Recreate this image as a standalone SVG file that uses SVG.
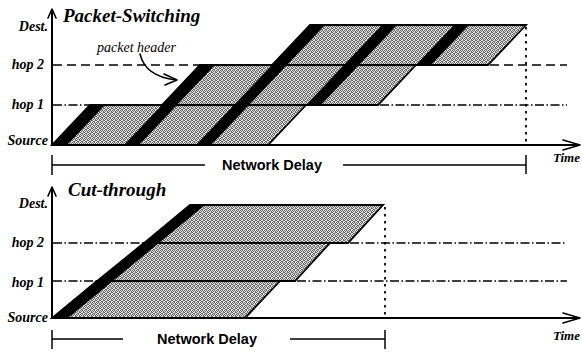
<svg xmlns="http://www.w3.org/2000/svg" width="582" height="354" viewBox="0 0 582 354">
<style>
.lab{font-family:"Liberation Serif","Times New Roman",serif;font-weight:bold;font-style:italic;font-size:14px;fill:#000;text-anchor:end}
.title{font-family:"Liberation Serif","Times New Roman",serif;font-weight:bold;font-style:italic;font-size:19px;fill:#000}
.hdr{font-family:"Liberation Serif","Times New Roman",serif;font-style:italic;font-size:14px;fill:#000}
.nd{font-family:"Liberation Sans",Arial,sans-serif;font-weight:bold;font-size:14.5px;fill:#000;text-anchor:middle}
.time{font-family:"Liberation Serif","Times New Roman",serif;font-weight:bold;font-style:italic;font-size:13px;fill:#000}
.band{fill:url(#stip);stroke:#000;stroke-width:1.8;stroke-linejoin:miter}
.stripe{fill:#000;stroke:none}
.axis{stroke:#000;stroke-width:2;fill:none}
.arr{stroke:#000;stroke-width:1.6;fill:none;stroke-linecap:round;stroke-linejoin:round}
.dash{stroke:#000;stroke-width:1.6;stroke-dasharray:9 5;fill:none}
.dd{stroke:#000;stroke-width:1.4;stroke-dasharray:9 2.5 1.5 2.5;fill:none}
.dot{stroke:#000;stroke-width:1.8;stroke-dasharray:2.5 4.5;fill:none}
.bar{stroke:#000;stroke-width:1.5;fill:none}
.dk{fill:#6a6a6a}
</style>
<defs>
<pattern id="stip" width="4" height="4" patternUnits="userSpaceOnUse">
<rect width="4" height="4" fill="#dedede"/>
<rect class="dk" x="0" y="0" width="1" height="1"/>
<rect class="dk" x="3" y="0" width="1" height="1"/>
<rect class="dk" x="1" y="1" width="2" height="1"/>
<rect class="dk" x="0" y="2" width="1" height="1"/>
<rect class="dk" x="2" y="2" width="1" height="1"/>
<rect class="dk" x="1" y="3" width="1" height="1"/>
<rect class="dk" x="3" y="3" width="1" height="1"/>
</pattern>
</defs>

<g id="top-panel">
<text class="title" x="63" y="22">Packet-Switching</text>
<text class="lab" x="48" y="31">Dest.</text>
<text class="lab" x="44" y="69">hop 2</text>
<text class="lab" x="44" y="109">hop 1</text>
<text class="lab" x="48" y="145">Source</text>
<text class="hdr" x="97" y="52">packet header</text>

<g id="ps-band0">
<polygon class="band" points="52,145 268,145 306,105 90,105"/>
<polygon class="stripe" points="52,145 67,145 105,105 90,105"/>
<polygon class="stripe" points="124,145 139,145 177,105 162,105"/>
<polygon class="stripe" points="196,145 211,145 249,105 234,105"/>
</g>
<g id="ps-band1">
<polygon class="band" points="162,105 378,105 416,65 200,65"/>
<polygon class="stripe" points="162,105 177,105 215,65 200,65"/>
<polygon class="stripe" points="234,105 249,105 287,65 272,65"/>
<polygon class="stripe" points="306,105 321,105 359,65 344,65"/>
</g>
<g id="ps-band2">
<polygon class="band" points="272,65 488,65 526,25 310,25"/>
<polygon class="stripe" points="272,65 287,65 325,25 310,25"/>
<polygon class="stripe" points="344,65 359,65 397,25 382,25"/>
<polygon class="stripe" points="416,65 431,65 469,25 454,25"/>
</g>
<text class="nd" x="272" y="170">Network Delay</text>
<text class="time" x="553" y="162">Time</text>
</g>

<g id="bottom-panel">
<text class="title" x="68" y="196">Cut-through</text>
<text class="lab" x="48" y="208">Dest.</text>
<text class="lab" x="44" y="247">hop 2</text>
<text class="lab" x="44" y="287">hop 1</text>
<text class="lab" x="48" y="322">Source</text>
<g id="ct-packet">
<polygon class="band" points="52,318 245,318 280,281 97,281"/>
<polygon class="band" points="97,281 295,281 330,243 144,243"/>
<polygon class="band" points="144,243 348,243 383,205 190,205"/>
<polygon class="stripe" points="52,318 68,318 205,205 190,205"/>
</g>
<text class="nd" x="207" y="344">Network Delay</text>
<text class="time" x="553" y="340">Time</text>
</g>

<g id="connectors">
<line class="axis" x1="52" y1="146" x2="52" y2="10"/>
<polyline class="arr" points="48,18 52,9 56,18"/>
<line class="axis" x1="52" y1="145" x2="578" y2="145"/>
<polyline class="arr" points="563,140 580,145 563,150"/>
<line class="dash" x1="53" y1="65" x2="200" y2="65"/>
<line class="dash" x1="490" y1="65" x2="567" y2="65"/>
<line class="dd" x1="53" y1="105" x2="90" y2="105"/>
<line class="dd" x1="380" y1="105" x2="567" y2="105"/>
<line class="dot" x1="526" y1="27" x2="526" y2="145"/>
<path class="arr" d="M140,54 C143,66 151,77 176,80"/>
<polyline class="arr" points="164,74 177,80 165,85"/>
<line class="bar" x1="52" y1="155" x2="52" y2="175"/>
<line class="bar" x1="52" y1="165" x2="205" y2="165"/>
<line class="bar" x1="343" y1="165" x2="526" y2="165"/>
<line class="bar" x1="526" y1="155" x2="526" y2="174"/>
<line class="axis" x1="52" y1="319" x2="52" y2="188"/>
<polyline class="arr" points="48,196 52,187 56,196"/>
<line class="axis" x1="52" y1="318" x2="578" y2="318"/>
<polyline class="arr" points="563,313 580,318 563,323"/>
<line class="dd" x1="53" y1="243" x2="144" y2="243"/>
<line class="dd" x1="350" y1="243" x2="567" y2="243"/>
<line class="dd" x1="53" y1="281" x2="97" y2="281"/>
<line class="dd" x1="297" y1="281" x2="567" y2="281"/>
<line class="dot" x1="385" y1="207" x2="385" y2="318"/>
<line class="bar" x1="52" y1="330" x2="52" y2="349"/>
<line class="bar" x1="52" y1="339" x2="123" y2="339"/>
<line class="bar" x1="290" y1="339" x2="385" y2="339"/>
<line class="bar" x1="385" y1="330" x2="385" y2="349"/>
</g>
</svg>
